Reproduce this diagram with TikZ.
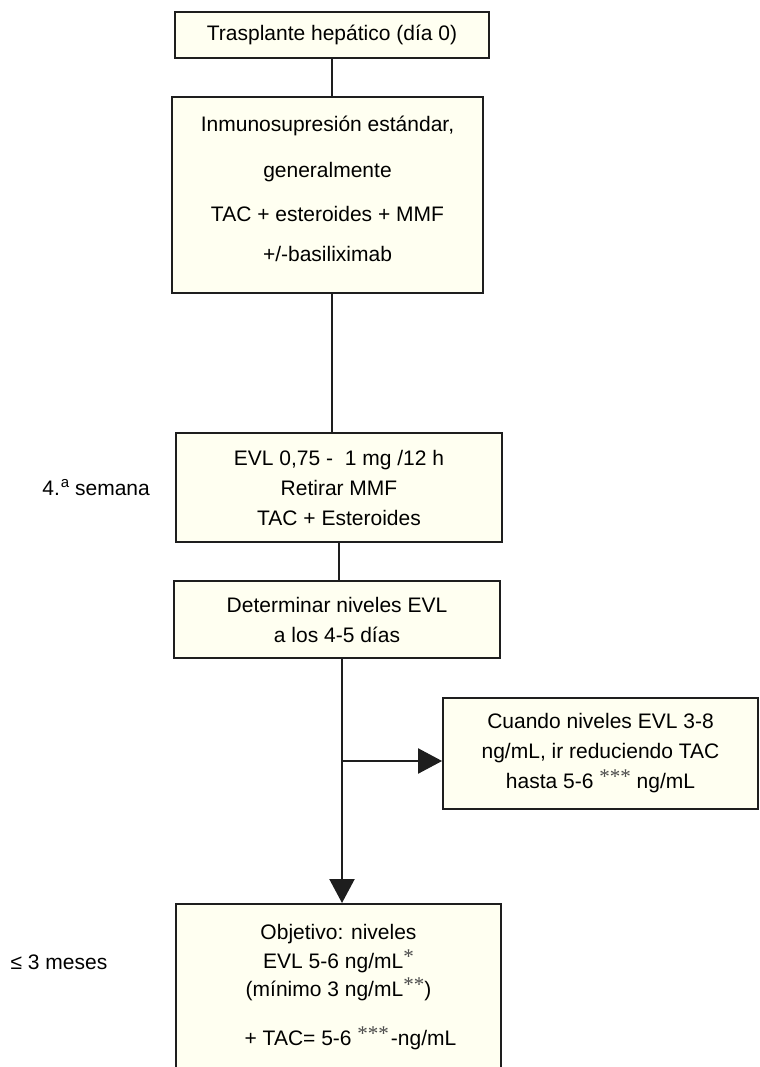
\documentclass[tikz,border=0pt]{standalone}
\usepackage{fontspec}
\setmainfont{Liberation Sans}
\newfontfamily\estrella{Liberation Serif}
\usepackage{tikz}
\usetikzlibrary{arrows.meta}
\usepackage{xcolor}
\definecolor{crema}{RGB}{255,255,241}
\definecolor{borde}{RGB}{30,30,30}
\definecolor{asterisco}{RGB}{75,75,75}
\newcommand{\llamada}[1]{\raisebox{2.5pt}{\estrella\textcolor{asterisco}{#1}}}

\begin{document}
\begin{tikzpicture}[x=0.5pt, y=-0.5pt,
    caja/.style={draw=borde, line width=0.9pt, fill=crema, inner sep=0pt, align=center,
      font=\fontsize{10.5}{15}\selectfont},
    linea/.style={borde, line width=1.1pt},
    flecha/.style={linea, -{Triangle[length=12pt, width=12.5pt]}},
    lado/.style={font=\fontsize{10.5}{15}\selectfont}]
  \useasboundingbox (0,0) rectangle (760,1067);
  \clip (0,0) rectangle (760,1067);
  % Day 0
  \node[caja, minimum width=157pt, minimum height=23pt] (tx) at (332,35) {Trasplante hepático (día 0)};
  % Standard immunosuppression
  \node[caja, minimum width=155.5pt, minimum height=98pt, text depth=6pt] (inmuno) at (327.5,195)
    {Inmunosupresión estándar,\\[8pt] generalmente\\[7pt] TAC + esteroides + MMF\\[5pt] +/-basiliximab};
  % Week 4
  \node[caja, minimum width=163pt, minimum height=54.5pt] (evl) at (339,487.5)
    {EVL 0,75 -\ \ 1 mg /12 h\\ Retirar MMF\\ TAC + Esteroides};
  \node[lado, anchor=west, inner sep=0pt] (semana) at (42,488)
    {4.\kern0.5pt\raisebox{4pt}{\fontsize{7.5}{9}\selectfont a}\ semana};
  % Levels
  \node[caja, minimum width=163pt, minimum height=38.5pt] (det) at (337,619.5)
    {Determinar niveles EVL\\ a los 4-5 días};
  \node[caja, minimum width=157.5pt, minimum height=55.5pt] (cuando) at (600.5,753.5)
    {Cuando niveles EVL 3-8\\ ng/mL, ir reduciendo TAC\\ hasta 5-6 \llamada{***} ng/mL};
  % Target, box runs off the bottom
  \node[caja, anchor=north, minimum width=162.5pt, inner ysep=10pt, text depth=60pt] (obj) at (338.5,903)
    {Objetivo: niveles\\[-0.5pt] EVL 5-6 ng/mL\llamada{*}\\[-1pt] (mínimo 3 ng/mL\llamada{**})\\[9.5pt]
     \hspace*{12pt}+ TAC= 5-6 \llamada{***}\kern1pt-ng/mL};
  \node[lado] (meses) at (59,962) {≤ 3 meses};
  % Connectors
  \coordinate (rama) at (342,761);
  \draw[linea] (tx.south) -- (tx.south |- inmuno.north);
  \draw[linea] (inmuno.south -| tx.south) -- (evl.north -| tx.south);
  \draw[linea] (evl.south) -- (evl.south |- det.north);
  \draw[flecha] (rama |- det.south) -- (rama |- obj.north);
  \draw[flecha] (rama) -- (rama -| cuando.west);
\end{tikzpicture}
\end{document}
